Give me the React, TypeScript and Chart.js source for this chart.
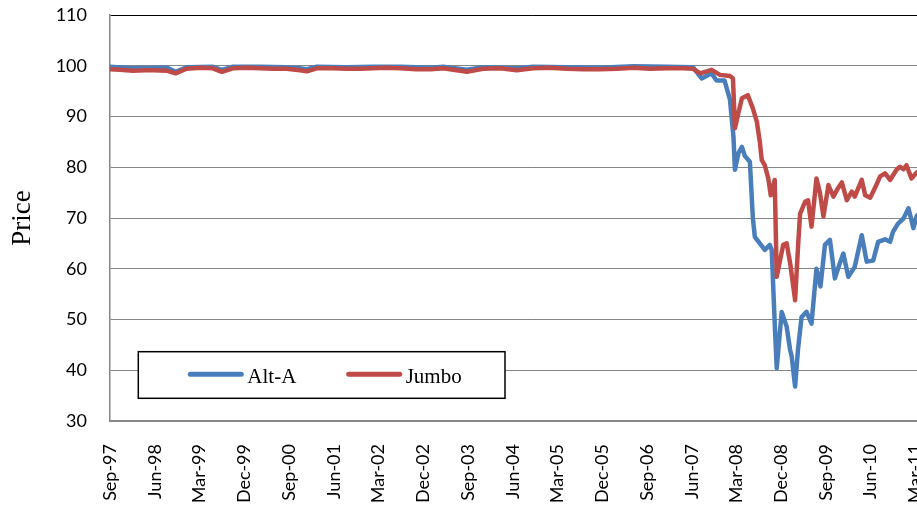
import { useEffect, useRef } from "react";
import { Chart, registerables } from "chart.js";

Chart.register(...registerables);

// x positions are months since Sep-1997
const tickMonths = [0, 9, 18, 27, 36, 45, 54, 63, 72, 81, 90, 99, 108, 117, 126, 135, 144, 153, 162];
const tickLabels = [
  "Sep-97", "Jun-98", "Mar-99", "Dec-99", "Sep-00", "Jun-01", "Mar-02", "Dec-02", "Sep-03", "Jun-04",
  "Mar-05", "Dec-05", "Sep-06", "Jun-07", "Mar-08", "Dec-08", "Sep-09", "Jun-10", "Mar-11",
];

const altAMonths = [
  0, 4.6, 8.7, 11.5, 13.2, 15.4, 20.7, 22.5, 24.7, 30.2, 35.5, 38.2, 39.6, 41.6, 47.7, 52.9, 58.4, 64.6, 67,
  71.8, 75, 81.8, 85.1, 91.9, 98.5, 105.3, 112, 117.3,
  119.0, 121.0, 122.0, 123.6, 124.7, 125.4, 125.7, 126.4, 127.1, 127.7, 128.7, 129.3, 129.7, 130.7, 131.7,
  132.7, 133.1, 133.7, 134.1, 135.1, 136.1, 136.8, 137.1, 137.8, 138.4, 139.1, 140.1, 141.1, 142.1, 142.9,
  143.8, 144.8, 145.8, 146.8, 147.5, 148.5, 149.8, 151.2, 152.2, 153.5, 154.5, 155.9, 156.9, 157.5, 158.5,
  159.6, 160.6, 161.6, 162.3, 163,
];
const altAValues = [
  99.8, 99.5, 99.6, 99.6, 98.8, 99.7, 99.8, 99.2, 99.8, 99.8, 99.7, 99.5, 99.3, 99.8, 99.7, 99.8, 99.8, 99.6, 99.8,
  99.2, 99.7, 99.5, 99.8, 99.7, 99.6, 99.9, 99.8, 99.7,
  97.5, 98.5, 97.1, 97.1, 93.3, 86, 79.5, 82.8, 84.0, 82.2, 81.1, 70, 66.3, 65.0, 63.7,
  64.7, 63.7, 49.2, 40.4, 51.5, 48.6, 44.0, 42.8, 36.8, 44.3, 50.5, 51.5, 49.2, 60.0, 56.5,
  64.7, 65.7, 58.1, 61.1, 63.0, 58.4, 60.4, 66.6, 61.4, 61.6, 65.3, 65.8, 65.3, 67.3, 68.9,
  69.9, 71.9, 68.0, 70.5, 71,
];

const jumboMonths = [
  0, 2, 4.6, 7.1, 8.7, 11.5, 13.2, 15.4, 18.2, 20.7, 22.5, 24.7, 27.5, 30.2, 32.8, 35.5, 38.2, 39.6, 41.6, 44.8,
  47.7, 50.3, 52.9, 55.6, 58.4, 61.6, 64.6, 67, 71.8, 75, 78.5, 81.8, 85.1, 88.4, 91.9, 95.2, 98.5, 102, 105.3,
  108.6, 112, 115.3, 117.3,
  118.7, 121.0, 122.7, 124.7, 125.3, 125.7, 126.3, 127.1, 128.3, 129.3, 130.1, 130.7, 131.1, 131.7, 132.4,
  132.9, 133.7, 134.1, 135.4, 136.1, 136.8, 137.8, 138.4, 138.8, 139.8, 140.4, 141.1, 142.1, 142.8, 143.5,
  144.5, 145.5, 146.2, 147.2, 148.2, 149.2, 149.8, 151.2, 151.9, 152.9, 153.9, 154.9, 155.9, 156.9, 158.2,
  158.9, 159.6, 160.2, 161.2, 162.3, 163,
];
const jumboValues = [
  99.3, 99.2, 99.0, 99.1, 99.1, 99.0, 98.5, 99.4, 99.6, 99.5, 98.8, 99.5, 99.6, 99.5, 99.4, 99.4, 99.1, 98.9, 99.5, 99.5,
  99.4, 99.4, 99.5, 99.6, 99.5, 99.3, 99.3, 99.5, 98.8, 99.4, 99.5, 99.1, 99.5, 99.6, 99.4, 99.3, 99.3, 99.4, 99.6,
  99.4, 99.5, 99.5, 99.4,
  98.5, 99.2, 98.2, 98.0, 97.5, 87.7, 90.3, 93.6, 94.2, 91.6, 89.0, 85.0, 81.4, 80.4, 77.8,
  74.5, 77.5, 58.4, 64.7, 65.0, 61.1, 53.8, 64.5, 70.8, 73.2, 73.5, 68.3, 77.8, 74.9, 70.3,
  76.5, 74.2, 75.5, 77.0, 73.5, 75.2, 74.2, 77.5, 74.5, 74.0, 76.0, 78.2, 78.8, 77.5, 79.5,
  80.1, 79.6, 80.4, 77.8, 79.0, 79.2,
];

const BLUE = "#4A7EBB";
const RED = "#BE4B48";
const GRID = "#868686";

const legendBoxPlugin = {
  id: "legendBox",
  afterDatasetsDraw(chart: any) {
    const { ctx, chartArea } = chart;
    const bx = chartArea.left + 28.3;
    const by = chartArea.top + 336.7;
    const bw = 366.7;
    const bh = 46.6;
    ctx.save();
    ctx.fillStyle = "#fff";
    ctx.fillRect(bx, by, bw, bh);
    ctx.strokeStyle = "#000";
    ctx.lineWidth = 1.5;
    ctx.strokeRect(bx, by, bw, bh);
    const offsets = [50, 208.4];
    const ly = by + 22.6;
    ctx.font = '21px "Liberation Serif", "Times New Roman", serif';
    ctx.textBaseline = "alphabetic";
    chart.data.datasets.forEach((ds: any, i: number) => {
      const x0 = bx + offsets[i];
      ctx.strokeStyle = ds.borderColor;
      ctx.lineWidth = 5;
      ctx.lineCap = "round";
      ctx.beginPath();
      ctx.moveTo(x0 + 2, ly);
      ctx.lineTo(x0 + 53, ly);
      ctx.stroke();
      ctx.fillStyle = "#000";
      ctx.fillText(ds.label, x0 + 59, by + 30.8);
    });
    ctx.restore();
  },
};

export default function App() {
  const ref = useRef<HTMLCanvasElement>(null);

  useEffect(() => {
    const canvas = ref.current;
    if (!canvas) return;
    const chart = new Chart(canvas, {
      type: "line",
      data: {
        datasets: [
          {
            label: "Alt-A",
            data: altAMonths.map((m, i) => ({ x: m, y: altAValues[i] })),
            borderColor: BLUE,
            backgroundColor: BLUE,
            borderWidth: 4.5,
            pointRadius: 0,
            tension: 0,
            borderJoinStyle: "round",
            borderCapStyle: "round",
            order: 1,
          },
          {
            label: "Jumbo",
            data: jumboMonths.map((m, i) => ({ x: m, y: jumboValues[i] })),
            borderColor: RED,
            backgroundColor: RED,
            borderWidth: 4.5,
            pointRadius: 0,
            tension: 0,
            borderJoinStyle: "round",
            borderCapStyle: "round",
            order: 0,
          },
        ],
      },
      options: {
        animation: false,
        responsive: false,
        devicePixelRatio: 1,
        layout: { padding: { top: 15, right: 14.8, left: 0, bottom: 0 } },
        plugins: {
          legend: { display: false },
          tooltip: { enabled: false },
        },
        scales: {
          x: {
            type: "linear",
            min: 0,
            max: 170,
            afterBuildTicks: (s: any) => {
              s.ticks = tickMonths.map((v) => ({ value: v }));
            },
            afterFit: (s: any) => {
              s.height = 89;
              s.paddingLeft = 0;
              s.paddingRight = 0;
            },
            ticks: {
              autoSkip: false,
              minRotation: 90,
              maxRotation: 90,
              padding: 23,
              color: "#000",
              font: { family: "Lato", size: 18 },
              callback: (_v: any, i: number) => tickLabels[i],
            },
            grid: { display: false, drawTicks: false },
            border: { display: true, color: GRID, width: 1.5 },
          },
          y: {
            min: 30,
            max: 110,
            afterFit: (s: any) => {
              s.width = 110;
              s.paddingTop = 0;
              s.paddingBottom = 0;
            },
            ticks: {
              stepSize: 10,
              padding: 23,
              color: "#000",
              font: { family: "Lato", size: 18 },
            },
            grid: {
              drawTicks: false,
              lineWidth: 1,
              color: (c: any) => (c.tick && c.tick.value === 110 ? "#000" : GRID),
            },
            border: { display: true, color: GRID, width: 1.5 },
            title: {
              display: true,
              text: "Price",
              color: "#000",
              font: { family: "Liberation Serif", size: 27 },
              padding: { top: 7, bottom: 0 },
            },
          },
        },
      },
      plugins: [legendBoxPlugin],
    });
    return () => chart.destroy();
  }, []);

  return (
    <div
      style={{
        position: "fixed",
        left: 0,
        top: 0,
        width: 917,
        height: 510,
        overflow: "hidden",
        background: "#fff",
      }}
    >
      <canvas ref={ref} width={970} height={510} style={{ display: "block" }} />
    </div>
  );
}
